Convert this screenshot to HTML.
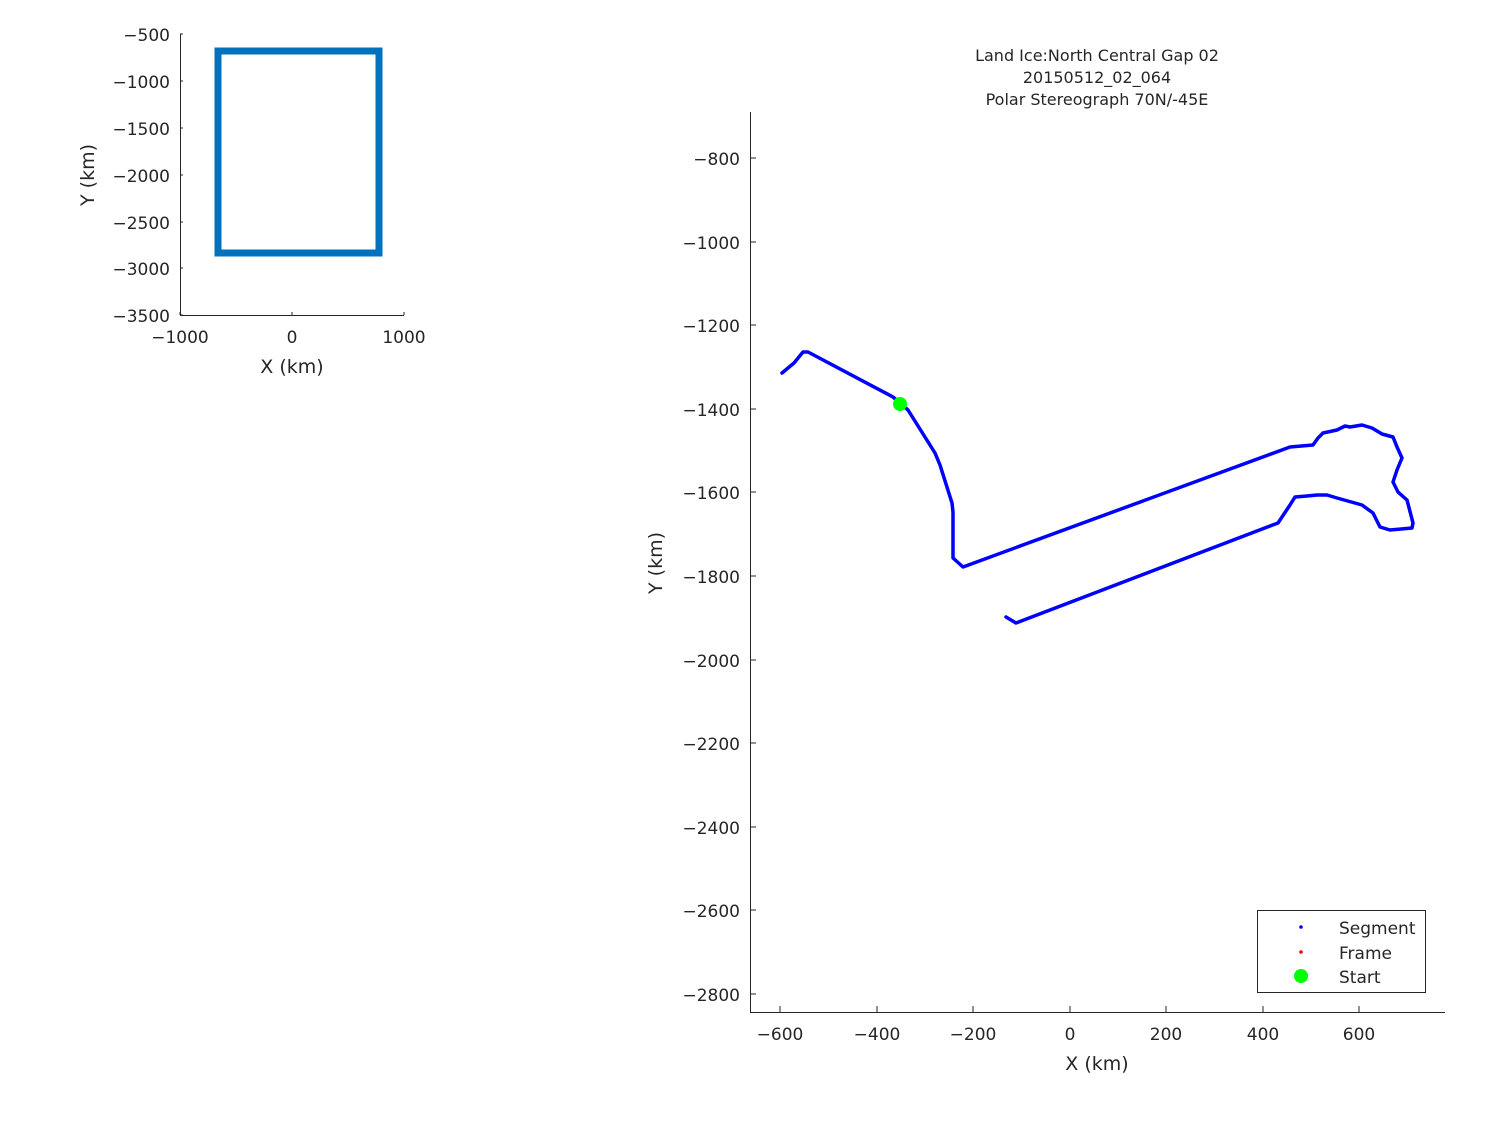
<!DOCTYPE html>
<html><head><meta charset="utf-8"><style>
html,body{margin:0;padding:0;background:#fff}
text{font-family:"DejaVu Sans","Liberation Sans",sans-serif;fill:#262626}
</style></head><body>
<svg width="1500" height="1125" viewBox="0 0 1500 1125" xmlns="http://www.w3.org/2000/svg">
<rect width="1500" height="1125" fill="#fff"/>
<g stroke="#262626" stroke-width="1" fill="none">
<path d="M180.5,34 V315.5 H404"/>
<path d="M180,315 v-3 M292,315 v-3 M404,315 v-3"/>
<path d="M180,34 h3 M180,81 h3 M180,128 h3 M180,175 h3 M180,222 h3 M180,268 h3 M180,315 h3"/>
</g>
<g font-size="17" text-anchor="end">
<text x="170" y="41">−500</text>
<text x="170" y="88">−1000</text>
<text x="170" y="135">−1500</text>
<text x="170" y="182">−2000</text>
<text x="170" y="229">−2500</text>
<text x="170" y="275">−3000</text>
<text x="170" y="322">−3500</text>
</g>
<g font-size="17" text-anchor="middle">
<text x="180" y="343">−1000</text>
<text x="292" y="343">0</text>
<text x="404" y="343">1000</text>
<text x="292" y="373" font-size="19">X (km)</text>
<text transform="translate(94,175) rotate(-90)" font-size="19">Y (km)</text>
</g>
<rect x="218" y="51" width="161" height="202" fill="none" stroke="#0072BD" stroke-width="7"/>
<g font-size="16" text-anchor="middle">
<text x="1097" y="61">Land Ice:North Central Gap 02</text>
<text x="1097" y="83">20150512_02_064</text>
<text x="1097" y="105">Polar Stereograph 70N/-45E</text>
</g>
<g stroke="#262626" stroke-width="1" fill="none">
<path d="M750.5,112 V1012.5 H1445"/>
<path d="M780,1012 v-6 M877,1012 v-6 M973,1012 v-6 M1070,1012 v-6 M1166,1012 v-6 M1263,1012 v-6 M1359,1012 v-6"/>
<path d="M750,158 h6 M750,242 h6 M750,325 h6 M750,409 h6 M750,492 h6 M750,576 h6 M750,660 h6 M750,743 h6 M750,827 h6 M750,910 h6 M750,994 h6"/>
</g>
<g font-size="17" text-anchor="end">
<text x="740" y="165">−800</text>
<text x="740" y="249">−1000</text>
<text x="740" y="332">−1200</text>
<text x="740" y="416">−1400</text>
<text x="740" y="499">−1600</text>
<text x="740" y="583">−1800</text>
<text x="740" y="667">−2000</text>
<text x="740" y="750">−2200</text>
<text x="740" y="834">−2400</text>
<text x="740" y="917">−2600</text>
<text x="740" y="1001">−2800</text>
</g>
<g font-size="17" text-anchor="middle">
<text x="780" y="1040">−600</text>
<text x="877" y="1040">−400</text>
<text x="973" y="1040">−200</text>
<text x="1070" y="1040">0</text>
<text x="1166" y="1040">200</text>
<text x="1263" y="1040">400</text>
<text x="1359" y="1040">600</text>
<text x="1097" y="1070" font-size="19">X (km)</text>
<text transform="translate(662,563) rotate(-90)" font-size="19">Y (km)</text>
</g>
<polyline fill="none" stroke="#0000ff" stroke-width="3.5" stroke-linejoin="round" stroke-linecap="round"
points="782,373 794,363 803,352 808,352 893,397 908,410 935,453 940,465 952,503 953,512 953,558 963,567 1290,447 1313,445 1318,438 1323,433 1337,430 1345,426 1350,427 1362,425 1372,428 1382,434 1393,437 1397,447 1402,458 1397,470 1393,482 1398,492 1407,500 1413,523 1412,528 1390,530 1380,527 1373,513 1362,505 1337,498 1327,495 1317,495 1307,496 1295,497 1290,505 1278,523 1016,623 1006,617"/>
<circle cx="900" cy="404" r="7" fill="#00ff00"/>
<rect x="1257.5" y="910.5" width="168" height="82" fill="#fff" stroke="#262626" stroke-width="1"/>
<circle cx="1301" cy="927" r="1.8" fill="#0000ff"/>
<circle cx="1301" cy="952" r="1.8" fill="#ff0000"/>
<circle cx="1301" cy="976" r="7" fill="#00ff00"/>
<g font-size="17">
<text x="1339" y="934">Segment</text>
<text x="1339" y="959">Frame</text>
<text x="1339" y="983">Start</text>
</g>
</svg>
</body></html>
